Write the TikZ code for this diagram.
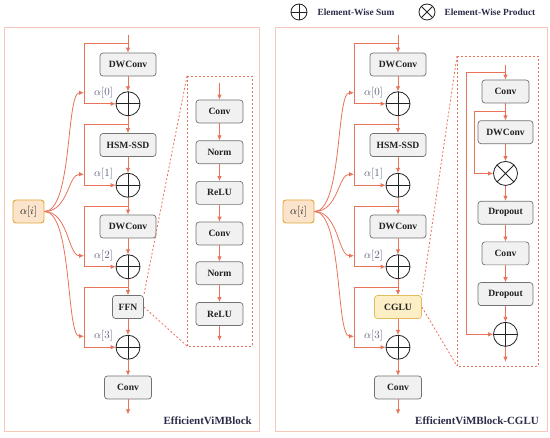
\documentclass[tikz,border=0pt]{standalone}
\usepackage{fontspec}
\setmainfont{Liberation Serif}
\usetikzlibrary{arrows.meta,positioning,calc}
\definecolor{coral}{HTML}{E8735A}
\definecolor{panelline}{HTML}{F6C8BA}
\definecolor{boxfill}{HTML}{F1F1F1}
\definecolor{boxline}{HTML}{727272}
\definecolor{afill}{HTML}{FCE3CB}
\definecolor{aline}{HTML}{E2A535}
\definecolor{gfill}{HTML}{FCEFC6}
\definecolor{gline}{HTML}{E0BC5C}
\definecolor{alabel}{HTML}{5F6381}
\definecolor{navy}{HTML}{2A2C48}
\definecolor{ink}{HTML}{222222}

\begin{document}
\begin{tikzpicture}[x=1pt,y=-1pt,
box/.style={draw=boxline,fill=boxfill,line width=.7pt,rounded corners=3pt,minimum width=47pt,minimum height=23pt,inner sep=2pt,font=\fontsize{9.6}{11}\selectfont\bfseries,text=ink},
sum/.style={circle,draw=ink,line width=.8pt,minimum size=24pt,inner sep=0pt,
  path picture={\draw[ink,line width=.8pt](path picture bounding box.north)--(path picture bounding box.south)(path picture bounding box.west)--(path picture bounding box.east);}},
prod/.style={circle,draw=ink,line width=.8pt,minimum size=24pt,inner sep=0pt,
  path picture={\draw[ink,line width=.8pt](path picture bounding box.north west)--(path picture bounding box.south east)(path picture bounding box.south west)--(path picture bounding box.north east);}},
arr/.style={-{Latex[length=5pt,width=4.5pt]},coral,line width=.8pt},
zoomline/.style={coral,line width=.8pt,dash pattern=on 2pt off 2pt},
panel/.style={draw=panelline,line width=1pt},
alab/.style={inner sep=0pt,text=alabel,font=\fontsize{10.5}{12}\selectfont},
blocktitle/.style={inner sep=0pt,text=navy,font=\fontsize{11}{13}\selectfont\bfseries},
legtext/.style={inner sep=0pt,text=navy,font=\fontsize{9.4}{11}\selectfont\bfseries}]
\useasboundingbox (0,0) rectangle (550,438);

% legend
\node[sum,minimum size=16pt] (lsum) at (299,12) {};
\node[legtext,right=10pt of lsum] (lsumtxt) {Element-Wise Sum};
\node[prod,minimum size=16pt] (lprod) at (427,12) {};
\node[legtext,right=9pt of lprod] (lprodtxt) {Element-Wise Product};

% left block
\draw[panel] (4,28) rectangle (259,432);
\coordinate (in0) at (128,35);
\node[box,minimum width=56pt] (dw1) at (128,64.5) {DWConv};
\node[sum,below=15pt of dw1] (s0) {};
\node[box,minimum width=56pt,below=17pt of s0] (hsm) {HSM-SSD};
\node[sum,below=16pt of hsm] (s1) {};
\node[box,minimum width=56pt,below=17pt of s1] (dw2) {DWConv};
\node[sum,below=16pt of dw2] (s2) {};
\node[box,minimum width=31pt,below=16pt of s2] (ffn) {FFN};
\node[sum,below=16pt of ffn] (s3) {};
\node[box,below=16pt of s3] (cv) {Conv};
\coordinate[below=15pt of cv] (out0);
\draw[arr] (in0)--(dw1);\draw[arr] (dw1)--(s0);\draw[arr] (s0)--(hsm);\draw[arr] (hsm)--(s1);
\draw[arr] (s1)--(dw2);\draw[arr] (dw2)--(s2);\draw[arr] (s2)--(ffn);\draw[arr] (ffn)--(s3);
\draw[arr] (s3)--(cv);\draw[arr] (cv)--(out0);
% skip connections and scales
\coordinate (t0) at ($(s0)+(-44,-11)$);\coordinate (t1) at ($(s1)+(-44,-11)$);
\coordinate (t2) at ($(s2)+(-44,-11)$);\coordinate (t3) at ($(s3)+(-44,-11)$);
\coordinate (b0) at ($(in0)!.5!(dw1.north)$);\coordinate (b1) at ($(s0.south)!.5!(hsm.north)$);
\coordinate (b2) at ($(s1.south)!.5!(dw2.north)$);\coordinate (b3) at ($(s2.south)!.5!(ffn.north)$);
\draw[arr] (b0)--(b0 -| t0)|-(s0);\draw[arr] (b1)--(b1 -| t1)|-(s1);
\draw[arr] (b2)--(b2 -| t2)|-(s2);\draw[arr] (b3)--(b3 -| t3)|-(s3);
\node[box,fill=afill,draw=aline,line width=.9pt,minimum width=31pt,font=\fontsize{10.5}{12}\selectfont] (ai) at (28.5,211.5) {$\alpha[i]$};
\draw[arr] (ai.east) to[out=0,in=180,out distance=28pt,in distance=18pt] (t0);
\draw[arr] (ai.east) to[out=0,in=180,out distance=24pt,in distance=16pt] (t1);
\draw[arr] (ai.east) to[out=0,in=180,out distance=24pt,in distance=16pt] (t2);
\draw[arr] (ai.east) to[out=0,in=180,out distance=28pt,in distance=18pt] (t3);
\node[alab,right=10pt of t0] (l0) {$\alpha[0]$};\node[alab,right=10pt of t1] (l1) {$\alpha[1]$};
\node[alab,right=10pt of t2] (l2) {$\alpha[2]$};\node[alab,right=10pt of t3] (l3) {$\alpha[3]$};
% FFN detail
\coordinate (fz1) at (187,76);\coordinate (fz2) at (252,346);
\draw[zoomline] (fz1) rectangle (fz2);
\draw[zoomline] (fz1)--(ffn.north east);\draw[zoomline] (ffn.east)--(fz1 |- fz2);
\coordinate (fin) at (219.5,83);
\node[box] (fc1) at (219.5,111.5) {Conv};
\node[box,below=17pt of fc1] (fn1) {Norm};
\node[box,below=17pt of fn1] (fr1) {ReLU};
\node[box,below=17pt of fr1] (fc2) {Conv};
\node[box,below=16pt of fc2] (fn2) {Norm};
\node[box,below=17pt of fn2] (fr2) {ReLU};
\coordinate[below=15pt of fr2] (fout);
\draw[arr] (fin)--(fc1);\draw[arr] (fc1)--(fn1);\draw[arr] (fn1)--(fr1);\draw[arr] (fr1)--(fc2);
\draw[arr] (fc2)--(fn2);\draw[arr] (fn2)--(fr2);\draw[arr] (fr2)--(fout);
\node[blocktitle,anchor=base east] (tleft) at (252,425) {EfficientViMBlock};

% right block
\draw[panel] (275,28) rectangle (547,432);
\coordinate (rin0) at (398,35);
\node[box,minimum width=56pt] (rdw1) at (398,64.5) {DWConv};
\node[sum,below=15pt of rdw1] (rs0) {};
\node[box,minimum width=56pt,below=17pt of rs0] (rhsm) {HSM-SSD};
\node[sum,below=16pt of rhsm] (rs1) {};
\node[box,minimum width=56pt,below=17pt of rs1] (rdw2) {DWConv};
\node[sum,below=16pt of rdw2] (rs2) {};
\node[box,fill=gfill,draw=gline,below=16pt of rs2] (cglu) {CGLU};
\node[sum,below=16pt of cglu] (rs3) {};
\node[box,below=16pt of rs3] (rcv) {Conv};
\coordinate[below=15pt of rcv] (rout0);
\draw[arr] (rin0)--(rdw1);\draw[arr] (rdw1)--(rs0);\draw[arr] (rs0)--(rhsm);\draw[arr] (rhsm)--(rs1);
\draw[arr] (rs1)--(rdw2);\draw[arr] (rdw2)--(rs2);\draw[arr] (rs2)--(cglu);\draw[arr] (cglu)--(rs3);
\draw[arr] (rs3)--(rcv);\draw[arr] (rcv)--(rout0);
\coordinate (rt0) at ($(rs0)+(-44,-11)$);\coordinate (rt1) at ($(rs1)+(-44,-11)$);
\coordinate (rt2) at ($(rs2)+(-44,-11)$);\coordinate (rt3) at ($(rs3)+(-44,-11)$);
\coordinate (rb0) at ($(rin0)!.5!(rdw1.north)$);\coordinate (rb1) at ($(rs0.south)!.5!(rhsm.north)$);
\coordinate (rb2) at ($(rs1.south)!.5!(rdw2.north)$);\coordinate (rb3) at ($(rs2.south)!.5!(cglu.north)$);
\draw[arr] (rb0)--(rb0 -| rt0)|-(rs0);\draw[arr] (rb1)--(rb1 -| rt1)|-(rs1);
\draw[arr] (rb2)--(rb2 -| rt2)|-(rs2);\draw[arr] (rb3)--(rb3 -| rt3)|-(rs3);
\node[box,fill=afill,draw=aline,line width=.9pt,minimum width=31pt,font=\fontsize{10.5}{12}\selectfont] (rai) at (298.5,211.5) {$\alpha[i]$};
\draw[arr] (rai.east) to[out=0,in=180,out distance=28pt,in distance=18pt] (rt0);
\draw[arr] (rai.east) to[out=0,in=180,out distance=24pt,in distance=16pt] (rt1);
\draw[arr] (rai.east) to[out=0,in=180,out distance=24pt,in distance=16pt] (rt2);
\draw[arr] (rai.east) to[out=0,in=180,out distance=28pt,in distance=18pt] (rt3);
\node[alab,right=10pt of rt0] (rl0) {$\alpha[0]$};\node[alab,right=10pt of rt1] (rl1) {$\alpha[1]$};
\node[alab,right=10pt of rt2] (rl2) {$\alpha[2]$};\node[alab,right=10pt of rt3] (rl3) {$\alpha[3]$};
% CGLU detail
\coordinate (gz1) at (457,56);\coordinate (gz2) at (538,366);
\draw[zoomline] (gz1) rectangle (gz2);
\draw[zoomline] (gz1)--(cglu.north east);\draw[zoomline] (cglu.east)--(gz1 |- gz2);
\coordinate (gin) at (505.5,65);
\node[box] (gc1) at (505.5,91.5) {Conv};
\node[box,minimum width=55pt,below=17pt of gc1] (gdw) {DWConv};
\node[prod,below=17pt of gdw] (gmul) {};
\node[box,minimum width=55pt,below=15pt of gmul] (gd1) {Dropout};
\node[box,below=17pt of gd1] (gc2) {Conv};
\node[box,minimum width=55pt,below=17pt of gc2] (gd2) {Dropout};
\node[sum,below=16pt of gd2] (gsum) {};
\coordinate[below=15pt of gsum] (gout);
\draw[arr] (gin)--(gc1);\draw[arr] (gc1)--(gdw);\draw[arr] (gdw)--(gmul);\draw[arr] (gmul)--(gd1);
\draw[arr] (gd1)--(gc2);\draw[arr] (gc2)--(gd2);\draw[arr] (gd2)--(gsum);\draw[arr] (gsum)--(gout);
\coordinate (gb0) at ($(gin)!.5!(gc1.north)$);\coordinate (gb1) at ($(gc1.south)!.5!(gdw.north)$);
\draw[arr] (gb0)--++(-39.5,0)|-(gsum);
\draw[arr] (gb1)--++(-31.5,0)|-(gmul);
\node[blocktitle,anchor=base east] (tright) at (539,425) {EfficientViMBlock-CGLU};
\end{tikzpicture}
\end{document}
